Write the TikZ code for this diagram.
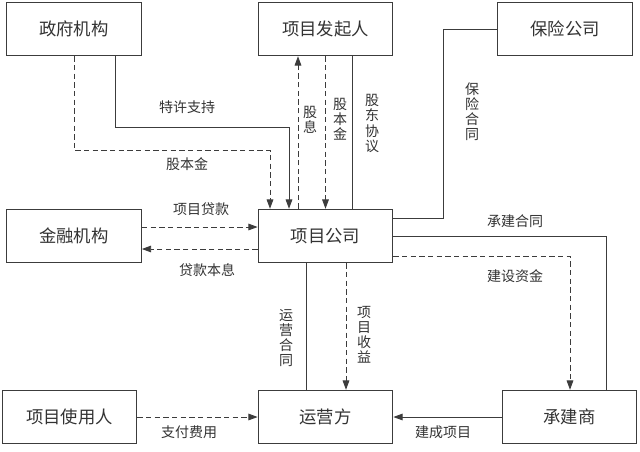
\documentclass[tikz,border=0pt]{standalone}
\usepackage{fontspec}
\setmainfont{Noto Sans CJK SC}
\usetikzlibrary{arrows.meta,calc}
\definecolor{lineGray}{RGB}{60,60,60}
\definecolor{textGray}{RGB}{50,50,50}

\tikzset{
  party/.style={draw=lineGray, line width=0.8pt, minimum width=101pt, minimum height=40pt,
    inner sep=0pt, font=\fontsize{13}{15}\selectfont, text=textGray},
  flow/.style={draw=lineGray, line width=0.7pt},
  cash/.style={flow, dash pattern=on 4pt off 2.5pt},
  tip/.style={-{Triangle[length=7pt,width=5pt]}},
  lbl/.style={font=\fontsize{10.5}{11.3}\selectfont, text=textGray, inner sep=0pt, align=center}
}

\begin{document}
\begin{tikzpicture}[x=0.75pt, y=-0.75pt]
    % Canvas
    \useasboundingbox (0,0) rectangle (640,451);

    % Top row
    \node[party] (gov) at (74,29) {政府机构};
    \node[party] (sponsor) at (325.5,29) {项目发起人};
    \node[party] (insurer) at (565,29) {保险公司};

    % Middle row
    \node[party] (bank) at (74,236) {金融机构};
    \node[party] (spv) at (325.5,236) {项目公司};

    % Bottom row
    \node[party] (user) at (69.5,417) {项目使用人};
    \node[party] (operator) at (325.5,417) {运营方};
    \node[party] (builder) at (569.5,417) {承建商};

    % Government
    \draw[flow,tip] ($(gov.south)+(41,0)$) -- ++(0,71) -| ($(spv.north)+(-36.5,0)$);
    \node[lbl] (lblFranchise) at (187,107) {特许支持};
    \draw[cash,tip] (gov.south) -- ++(0,94) -| ($(spv.north)+(-55.5,0)$);
    \node[lbl] (lblGovEquity) at (187,164) {股本金};

    % Sponsor
    \draw[cash,tip] ($(spv.north)+(-27.5,0)$) -- ($(sponsor.south)+(-27.5,0)$);
    \node[lbl] (lblDividend) at (310,120) {股\\息};
    \draw[cash,tip] (sponsor.south) -- (spv.north);
    \node[lbl] (lblEquity) at (340,119.5) {股\\本\\金};
    \draw[flow] ($(sponsor.south)+(27,0)$) -- ($(spv.north)+(27,0)$);
    \node[lbl] (lblShareholder) at (372,123.5) {股\\东\\协\\议};

    % Insurer
    \draw[flow] (insurer.west) -| (443,218) -- (spv.east |- 0,218);
    \node[lbl] (lblInsurance) at (472,112) {保\\险\\合\\同};

    % Bank
    \draw[cash,tip] (bank.east |- 0,227) -- (spv.west |- 0,227);
    \node[lbl] (lblLoan) at (201,209) {项目贷款};
    \draw[cash,tip] (spv.west |- 0,249) -- (bank.east |- 0,249);
    \node[lbl] (lblRepay) at (207,270) {贷款本息};

    % Builder
    \draw[flow] (spv.east |- 0,236) -| ($(builder.north)+(36.5,0)$);
    \node[lbl] (lblBuildContract) at (515,221) {承建合同};
    \draw[cash,tip] (spv.east |- 0,256) -| ($(builder.north)+(0.5,0)$);
    \node[lbl] (lblBuildFund) at (515,276) {建设资金};

    % Operator
    \draw[flow] ($(spv.south)+(-19.5,0)$) -- ($(operator.north)+(-19.5,0)$);
    \node[lbl] (lblOpContract) at (286,338) {运\\营\\合\\同};
    \draw[cash,tip] ($(spv.south)+(20.5,0)$) -- ($(operator.north)+(20.5,0)$);
    \node[lbl] (lblRevenue) at (364,335) {项\\目\\收\\益};

    % Bottom flows
    \draw[cash,tip] (user.east) -- (operator.west);
    \node[lbl] (lblFee) at (189,432) {支付费用};
    \draw[flow,tip] (builder.west) -- (operator.east);
    \node[lbl] (lblDone) at (443,432) {建成项目};
\end{tikzpicture}
\end{document}
